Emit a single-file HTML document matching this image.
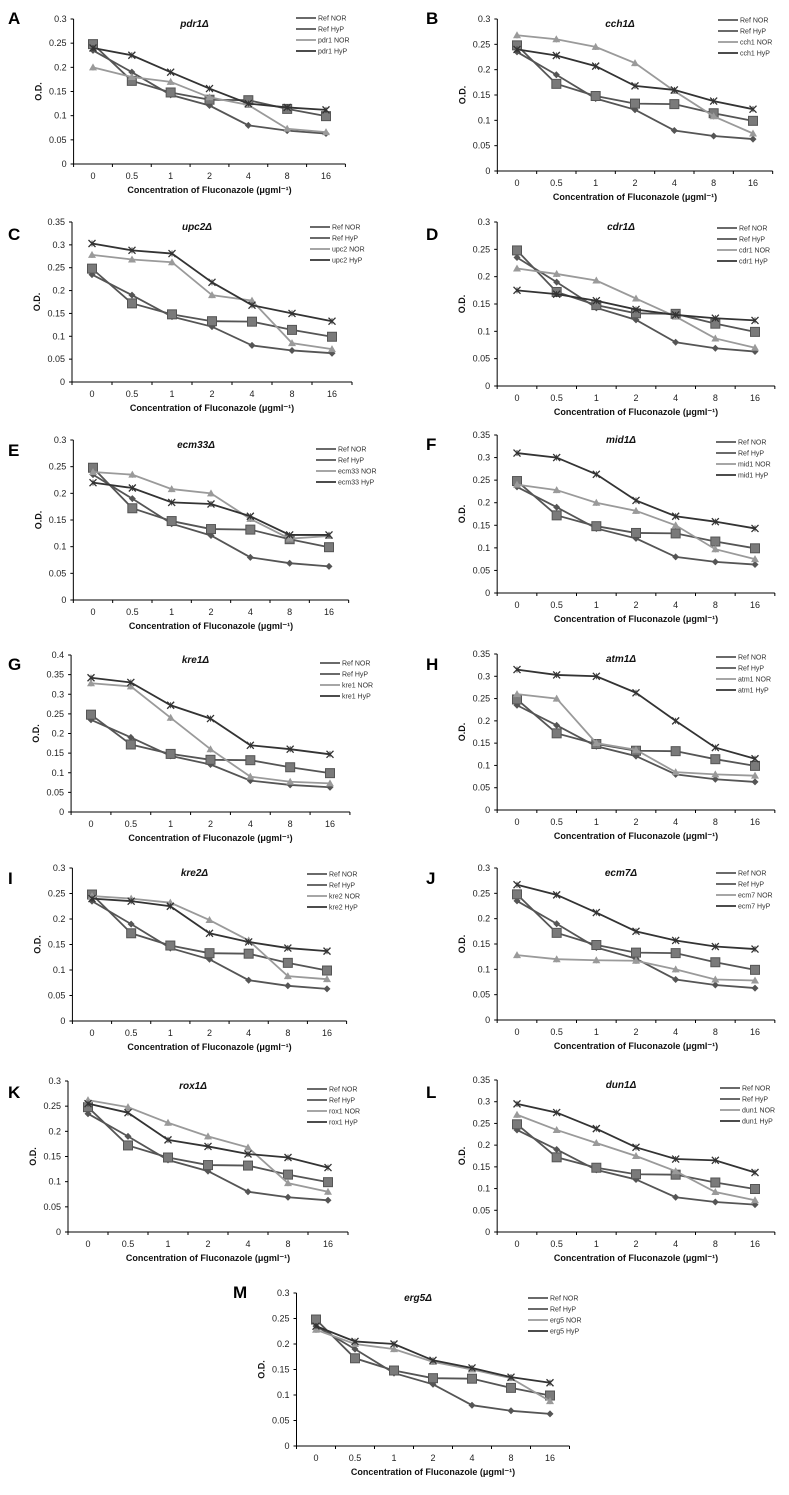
<!DOCTYPE html>
<html><head><meta charset="utf-8"><style>
body{margin:0;background:#fff;}
svg{display:block;font-family:"Liberation Sans",sans-serif;}
</style></head><body>
<svg id="fig" width="789" height="1495" viewBox="0 0 789 1495"></svg>
<script>
const concLabels=["0","0.5","1","2","4","8","16"];
const refNor=[0.235,0.19,0.143,0.121,0.08,0.069,0.063];
const refHyp=[0.248,0.172,0.148,0.133,0.132,0.114,0.099];
const panelLetters=["A","B","C","D","E","F","G","H","I","J","K","L","M"];
const genes=["pdr1","cch1","upc2","cdr1","ecm33","mid1","kre1","atm1","kre2","ecm7","rox1","dun1","erg5"];
const yMaxes=[0.3,0.3,0.35,0.3,0.3,0.35,0.4,0.35,0.3,0.3,0.3,0.35,0.3];
const mutNor=[
[0.2,0.18,0.17,0.138,0.122,0.073,0.066],
[0.268,0.26,0.245,0.213,0.158,0.108,0.074],
[0.278,0.268,0.262,0.19,0.178,0.085,0.072],
[0.215,0.205,0.193,0.16,0.127,0.087,0.07],
[0.24,0.235,0.208,0.2,0.152,0.115,0.12],
[0.24,0.228,0.2,0.182,0.15,0.097,0.075],
[0.328,0.32,0.24,0.16,0.09,0.077,0.073],
[0.26,0.25,0.15,0.135,0.085,0.08,0.077],
[0.245,0.24,0.232,0.198,0.158,0.088,0.082],
[0.128,0.12,0.118,0.117,0.1,0.08,0.078],
[0.262,0.248,0.217,0.19,0.168,0.097,0.08],
[0.27,0.235,0.205,0.175,0.14,0.092,0.073],
[0.228,0.2,0.19,0.165,0.15,0.133,0.088]];
const mutHyp=[
[0.24,0.225,0.19,0.156,0.125,0.117,0.112],
[0.24,0.228,0.207,0.168,0.16,0.138,0.122],
[0.303,0.288,0.281,0.218,0.168,0.15,0.133],
[0.175,0.168,0.156,0.14,0.13,0.124,0.12],
[0.22,0.21,0.183,0.18,0.157,0.122,0.122],
[0.31,0.3,0.263,0.205,0.17,0.158,0.143],
[0.342,0.33,0.272,0.238,0.17,0.16,0.147],
[0.315,0.303,0.3,0.263,0.2,0.14,0.115],
[0.24,0.235,0.225,0.172,0.155,0.143,0.137],
[0.267,0.247,0.212,0.175,0.157,0.145,0.14],
[0.255,0.237,0.183,0.17,0.155,0.148,0.128],
[0.295,0.275,0.238,0.195,0.168,0.165,0.137],
[0.235,0.205,0.2,0.168,0.153,0.135,0.124]];
const layout=[
[93,326,19,164,8,12,296,15],[517,753,19,171,426,12,718,17],
[92,332,222,382,8,228,310,224],[517,755,222,386,426,228,717,225],
[93,329,440,600,8,444,316,446],[517,755,435,593,426,438,716,439],
[91,330,655,812,8,658,320,660],[517,755,654,810,426,658,716,654],
[92,327,868,1021,8,872,307,871],[517,755,868,1020,426,872,716,870],
[88,328,1081,1232,8,1086,307,1086],[517,755,1080,1232,426,1086,720,1085],
[316,550,1293,1446,233,1286,528,1295]];
const NS="http://www.w3.org/2000/svg";
const svg=document.getElementById('fig');
function mk(tag,attrs,parent,text){const e=document.createElementNS(NS,tag);for(const k in attrs)e.setAttribute(k,attrs[k]);if(text!==undefined)e.textContent=text;parent.appendChild(e);return e;}
function marker(g,type,x,y,col){
 if(type==='d'){mk('path',{d:`M${x} ${y-3.5}L${x+3.5} ${y}L${x} ${y+3.5}L${x-3.5} ${y}Z`,fill:col},g);}
 else if(type==='s'){mk('rect',{x:x-4.5,y:y-4.5,width:9,height:9,fill:'#7a7a7a',stroke:'#555','stroke-width':1},g);}
 else if(type==='t'){mk('path',{d:`M${x} ${y-4}L${x+4} ${y+3}L${x-4} ${y+3}Z`,fill:col},g);}
 else {mk('path',{d:`M${x-3.5} ${y-3.5}L${x+3.5} ${y+3.5}M${x+3.5} ${y-3.5}L${x-3.5} ${y+3.5}`,stroke:col,'stroke-width':1.3},g);}
}
for(let p=0;p<13;p++){
 const [x0,x16,top,bot,lx,ly,gx,gy]=layout[p];
 const ymax=yMaxes[p];
 const step=(x16-x0)/6;
 const axL=x0-step/2, axR=x16+step/2;
 const xs=i=>x0+i*step;
 const ys=v=>bot-(v/ymax)*(bot-top);
 const g=mk('g',{},svg);
 
 
 const L=mk('text',{x:lx,y:ly+12,'font-size':17,'font-weight':'bold',fill:'#000'},g,panelLetters[p]);
 
 mk('line',{x1:axL,y1:top,x2:axL,y2:bot,stroke:'#000'},g);
 mk('line',{x1:axL,y1:bot,x2:axR,y2:bot,stroke:'#000'},g);
 const nT=Math.round(ymax/0.05);
 for(let k=0;k<=nT;k++){const v=k*0.05;const y=ys(v);
  mk('line',{x1:axL-3,y1:y,x2:axL,y2:y,stroke:'#000'},g);
  const t=mk('text',{x:axL-7,y:y+3,'font-size':9,'text-anchor':'end',fill:'#222'},g,(+v.toFixed(2)).toString());
  }
 for(let i=0;i<=7;i++){const x=axL+i*step;mk('line',{x1:x,y1:bot,x2:x,y2:bot+3,stroke:'#000'},g);}
 concLabels.forEach((c,i)=>{const t=mk('text',{x:xs(i),y:bot+15,'font-size':9,'text-anchor':'middle',fill:'#222'},g,c);
  });
 const xt=mk('text',{x:(axL+axR)/2,y:bot+29,'font-size':9,'font-weight':'bold','text-anchor':'middle',fill:'#111'},g,'Concentration of Fluconazole (μgml⁻¹)');
 
 const yt=mk('text',{x:0,y:0,'font-size':9,'font-weight':'bold','text-anchor':'middle',fill:'#111',transform:`translate(${axL-32},${(top+bot)/2}) rotate(-90)`},g,'O.D.');
 
 const tt=mk('text',{x:(axL+axR)/2-15,y:top+8,'font-size':10,'font-weight':'bold','font-style':'italic','text-anchor':'middle',fill:'#111'},g,genes[p]+'Δ');
 
 const series=[[refNor,'#555','d','Ref NOR'],[refHyp,'#555','s','Ref HyP'],[mutNor[p],'#9a9a9a','t',genes[p]+' NOR'],[mutHyp[p],'#333','x',genes[p]+' HyP']];
 series.forEach((s,si)=>{
  const sg=mk('g',{},g);
  
  
  mk('polyline',{points:s[0].map((v,i)=>xs(i)+','+ys(v)).join(' '),fill:'none',stroke:s[1],'stroke-width':1.8},sg);
  s[0].forEach((v,i)=>{mk('line',{x1:xs(i),y1:ys(v)-3,x2:xs(i),y2:ys(v)+3,stroke:'#222','stroke-width':0.8},sg);marker(sg,s[2],xs(i),ys(v),s[1]);});
  const le=mk('g',{},g);
  
  
  const ly2=gy+si*11+3;
  mk('line',{x1:gx,y1:ly2,x2:gx+20,y2:ly2,stroke:s[1],'stroke-width':1.8},le);
  mk('text',{x:gx+22,y:ly2+2.5,'font-size':7,fill:'#333'},le,s[3]);
 });
}
</script>
</body></html>
